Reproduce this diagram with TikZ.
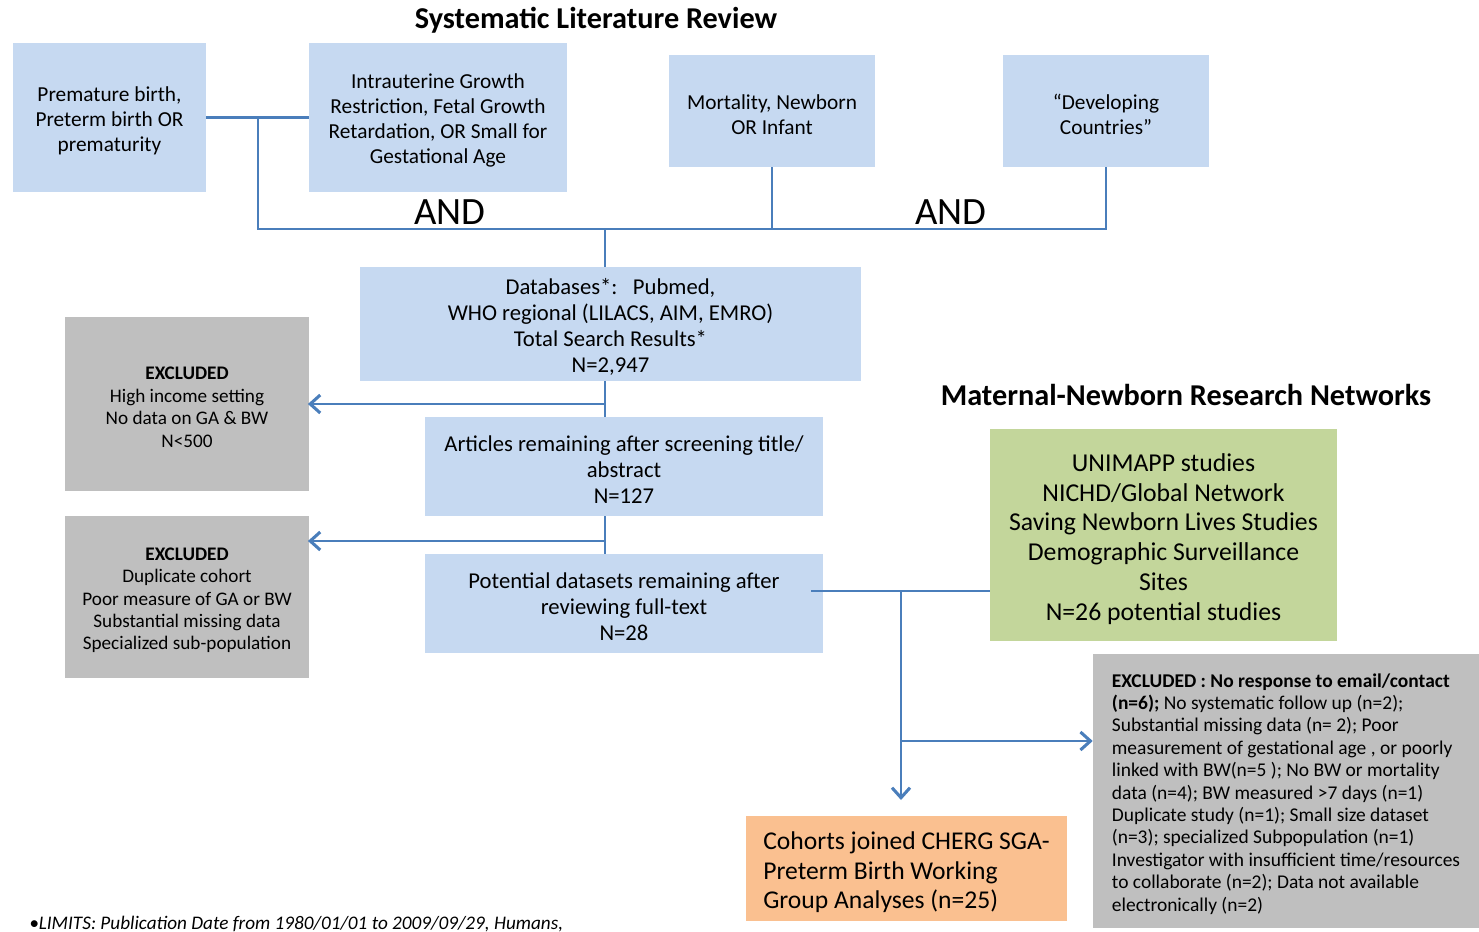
\documentclass[tikz,border=0pt]{standalone}
\usepackage{fontspec}
\setmainfont{Carlito}
\usetikzlibrary{arrows.meta}
\definecolor{boxblue}{HTML}{C6D9F1}
\definecolor{boxgray}{HTML}{BFBFBF}
\definecolor{boxgreen}{HTML}{C3D69B}
\definecolor{boxorange}{HTML}{FAC090}
\definecolor{linkblue}{HTML}{4A7EBB}
\newcommand\tp{\rule{0pt}{1.0em}}
\begin{document}
\begin{tikzpicture}[x=0.75pt,y=-0.75pt,
  sz/.style 2 args={minimum width=#1*0.75pt, minimum height=#2*0.75pt},
  box/.style={inner sep=0pt, text=black, anchor=center},
  bluebox/.style={box, fill=boxblue, align=center, font=\fontsize{16}{18.75}\selectfont},
  flowbox/.style={box, fill=boxblue, align=center, font=\fontsize{17}{19.5}\selectfont},
  graybox/.style={box, fill=boxgray, font=\fontsize{14.4}{16.8}\selectfont},
  conn/.style={draw=linkblue, line width=2.2pt},
  arr/.style={conn, -{Straight Barb[length=7.5pt,width=13.5pt,line width=2.3pt]}},
  title/.style={font=\fontsize{22.7}{26}\selectfont\bfseries},
  andlbl/.style={font=\fontsize{29}{32}\selectfont}]
\useasboundingbox (0,0) rectangle (1479,932);

\node[title] (t1) at (596,20) {Systematic Literature Review};
\node[title] (t2) at (1186,395) {Maternal-Newborn Research Networks};

\node[bluebox, sz={193}{149}] (A) at (109.5,117.5) {\tp Premature birth,\\Preterm birth OR\\prematurity};
\node[bluebox, sz={258}{149}] (B) at (438,117.5) {\tp Intrauterine Growth\\Restriction, Fetal Growth\\Retardation, OR Small for\\Gestational Age};
\node[bluebox, sz={206}{112}] (C) at (772,111) {\tp Mortality, Newborn\\OR Infant};
\node[bluebox, sz={206}{112}] (D) at (1106,111) {\tp “Developing\\Countries”};

\node[andlbl] (and1) at (450,212) {AND};
\node[andlbl] (and2) at (951,212) {AND};

\node[flowbox, sz={501}{114}] (DB) at (610.5,324) {\tp Databases*:\ \ \ Pubmed,\\WHO regional (LILACS, AIM, EMRO)\\Total Search Results*\\N=2,947};
\node[flowbox, sz={398}{99}] (Art) at (624,466.5) {\tp Articles remaining after screening title/\\abstract\\N=127};
\node[flowbox, sz={398}{99}] (Pot) at (624,603.5) {\tp Potential datasets remaining after\\reviewing full-text\\N=28};

\node[graybox, align=center, sz={244}{174}] (E1) at (187,404) {\tp\textbf{EXCLUDED}\\High income setting\\No data on GA \& BW\\N<500};
\node[graybox, align=center, sz={244}{162}] (E2) at (187,597) {\tp\textbf{EXCLUDED}\\Duplicate cohort\\Poor measure of GA or BW\\Substantial missing data\\Specialized sub-population};

\node[box, fill=boxgreen, align=center, font=\fontsize{19.3}{22.3}\selectfont, sz={347}{212}] (G) at (1163.5,535) {\tp UNIMAPP studies\\NICHD/Global Network\\Saving Newborn Lives Studies\\Demographic Surveillance\\Sites\\N=26 potential studies};

\node[box, fill=boxorange, align=left, font=\fontsize{19.2}{22}\selectfont, sz={321}{105}] (O) at (906.5,868.5) {\tp Cohorts joined CHERG SGA-\\Preterm Birth Working\\Group Analyses (n=25)};

\node[graybox, align=left, font=\fontsize{14.6}{16.8}\selectfont, sz={386}{274}] (R) at (1286,791) {\tp\textbf{EXCLUDED : No response to email/contact}\\\textbf{(n=6);} No systematic follow up (n=2);\\Substantial missing data (n= 2); Poor\\measurement of gestational age , or poorly\\linked with BW(n=5 ); No BW or mortality\\data (n=4); BW measured >7 days (n=1)\\Duplicate study (n=1); Small size dataset\\(n=3); specialized Subpopulation (n=1)\\Investigator with insufficient time/resources\\to collaborate (n=2); Data not available\\electronically (n=2)};

\node[anchor=base west, font=\fontsize{14.4}{16}\selectfont\itshape, inner sep=0pt] (fn) at (29,929) {•LIMITS: Publication Date from 1980/01/01 to 2009/09/29, Humans,};

% connectors
\coordinate (j1) at (258,117.5);
\coordinate (bl) at (258,229);
\coordinate (br) at (1106,229);
\coordinate (m) at (605,0);
\draw[conn] (A.east) -- (B.west);
\draw[conn] (j1) -- (bl) -- (br) -- (D.south);
\draw[conn] (C.south) -- (C.south |- bl);
\draw[conn] (m |- bl) -- (m |- DB.north);
\draw[conn] (m |- DB.south) -- (m |- Art.north);
\draw[conn] (m |- Art.south) -- (m |- Pot.north);
\coordinate (a1) at (605,404);
\coordinate (a2) at (605,541);
\draw[arr, shorten >=-1pt] (a1) -- (a1 -| E1.east);
\draw[arr, shorten >=-1pt] (a2) -- (a2 -| E2.east);
\coordinate (p) at (811,591);
\coordinate (q) at (901,591);
\coordinate (r) at (901,741);
\coordinate (s) at (901,800);
\draw[conn] (p) -- (p -| G.west);
\draw[arr] (q) -- (s);
\draw[arr] (r) -- (r -| R.west);
\end{tikzpicture}
\end{document}
